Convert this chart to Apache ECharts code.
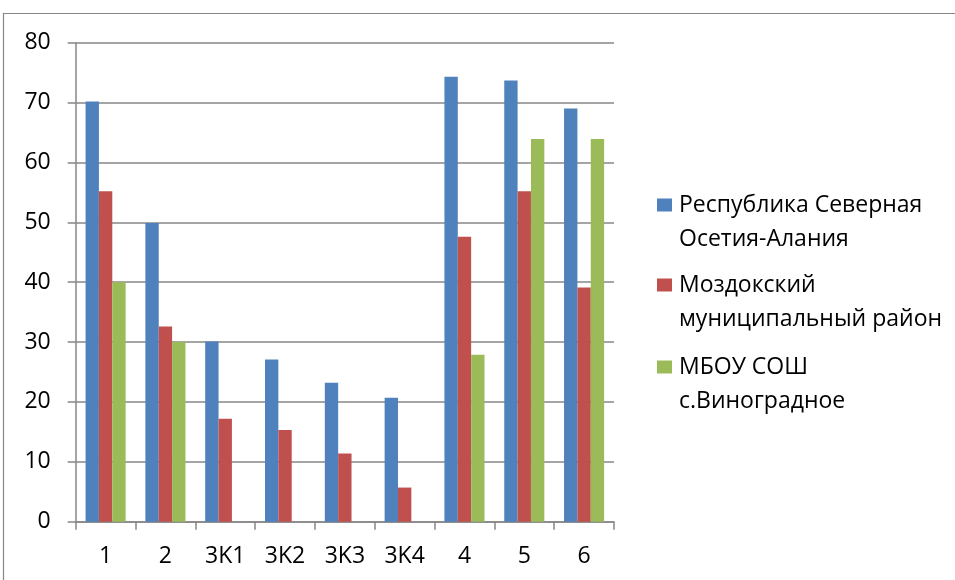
<!DOCTYPE html>
<html>
<head>
<meta charset="utf-8">
<script src="https://cdn.jsdelivr.net/npm/echarts@6/dist/echarts.min.js"></script>
<style>html,body{margin:0;padding:0;background:#fff;}#c{width:955px;height:580px;}</style>
</head>
<body>
<div id="c"></div>
<script>
var categories = ['1', '2', '3K1', '3K2', '3K3', '3K4', '4', '5', '6'];
var seriesNames = ['Республика Северная\nОсетия-Алания', 'Моздокский\nмуниципальный район', 'МБОУ СОШ\nс.Виноградное'];
var republic = [70.2, 49.9, 30.1, 27.1, 23.2, 20.7, 74.3, 73.7, 69.0];
var district = [55.2, 32.6, 17.2, 15.3, 11.4, 5.7, 47.6, 55.2, 39.1];
var school = [40, 30, null, null, null, null, 27.9, 63.9, 63.9];
var yTicks = [0, 10, 20, 30, 40, 50, 60, 70, 80];

var colors = ['#4F81BD', '#C0504D', '#9BBB59'];
var font = '"Open Sans", "Noto Sans", sans-serif';
var lh = 34;
var legendCenters = [205, 285, 367];

var chart = echarts.init(document.getElementById('c'), null, {renderer: 'canvas'});
var legends = seriesNames.map(function (n, i) {
  return {
    data: [n], orient: 'vertical', left: 657, top: legendCenters[i] - 1.5 * lh, padding: 0,
    itemWidth: 15, itemHeight: 13, itemGap: 0, icon: 'rect',
    selectedMode: false,
    formatter: function (name) { return '\n' + name; },
    textStyle: {fontFamily: font, fontSize: 23, color: '#000', lineHeight: lh, padding: [0, 0, 0, 2]}
  };
});
var dataSets = [republic, district, school];
chart.setOption({
  animation: false,
  color: colors,
  graphic: [{
    type: 'rect', shape: {x: 3.5, y: 13.5, width: 1200, height: 1200},
    style: {fill: 'none', stroke: '#878787', lineWidth: 1.2}, silent: true
  }],
  legend: legends,
  grid: {left: 75.7, right: 341, top: 42.7, bottom: 58.3},
  xAxis: {
    type: 'category', data: categories,
    axisLine: {lineStyle: {color: '#878787', width: 1.5}},
    axisTick: {show: true, length: 8, alignWithLabel: false, lineStyle: {color: '#878787', width: 1.5}},
    axisLabel: {fontFamily: font, fontSize: 23, color: '#000', margin: 23}
  },
  yAxis: {
    type: 'value', min: yTicks[0], max: yTicks[yTicks.length - 1], interval: 10,
    axisLine: {show: true, lineStyle: {color: '#878787', width: 1.5}},
    axisTick: {show: true, length: 8, lineStyle: {color: '#878787', width: 1.5}},
    splitLine: {lineStyle: {color: '#878787', width: 1.5}},
    axisLabel: {fontFamily: font, fontSize: 23, color: '#000', margin: 25}
  },
  series: seriesNames.map(function (n, i) {
    return {
      name: n, type: 'bar', data: dataSets[i],
      barGap: '0%', barCategoryGap: '33%',
      itemStyle: {color: colors[i]}
    };
  })
});
</script>
</body>
</html>
